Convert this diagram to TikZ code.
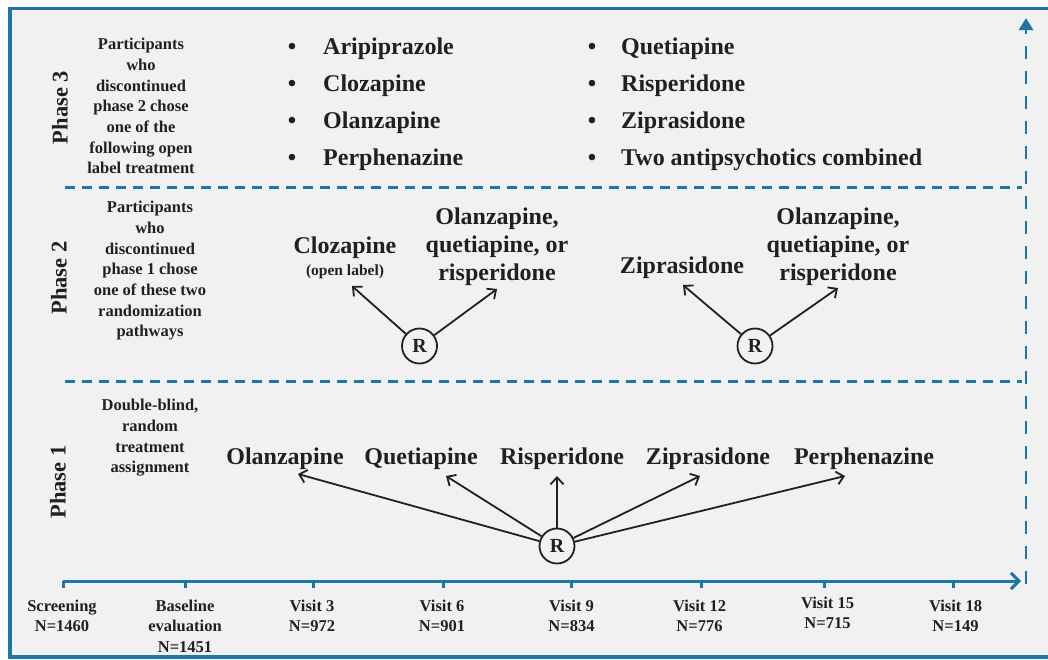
\documentclass[tikz,border=0pt]{standalone}
\usepackage{fontspec}
\setmainfont{Liberation Serif}
\usetikzlibrary{arrows.meta}
\definecolor{frameblue}{RGB}{30,118,168}
\definecolor{bggray}{RGB}{242,241,241}
\definecolor{ink}{RGB}{35,31,32}
\begin{document}
\begin{tikzpicture}[x=1pt,y=-1pt,
  big/.style={font=\bfseries\fontsize{24}{28}\selectfont, text=ink, align=center, inner sep=0},
  small/.style={font=\bfseries\fontsize{16.5}{20.7}\selectfont, text=ink, align=center, inner sep=0, anchor=north},
  phaselab/.style={font=\bfseries\fontsize{22.5}{26}\selectfont, text=ink, rotate=90, inner sep=0},
  axlab/.style={font=\bfseries\fontsize{16.5}{20.3}\selectfont, text=ink, align=center, inner sep=0, anchor=north},
  bul/.style={font=\bfseries\fontsize{24}{28}\selectfont, text=ink, inner sep=0, anchor=base},
  item/.style={font=\bfseries\fontsize{24}{28}\selectfont, text=ink, inner sep=0, anchor=base west},
  rnode/.style={circle, draw=ink, line width=1.8, minimum size=35, inner sep=0, font=\bfseries\fontsize{20}{24}\selectfont, text=ink, fill=bggray},
  arr/.style={draw=ink, line width=1.8, -{Straight Barb[length=7,width=13,line width=1.8]}},
  sepline/.style={draw=frameblue, line width=2.6, dash pattern=on 10 off 7},
  tick/.style={draw=frameblue, line width=3},
]
\useasboundingbox (0,0) rectangle (1048,659);
\fill[white] (0,0) rectangle (1048,659);
% frame
\draw[frameblue, line width=3.5, fill=bggray] (10,8.5) rectangle (1080,657);

% phase separators
\coordinate (s1a) at (65,187.5);
\coordinate (s1b) at (1022,187.5);
\coordinate (s2a) at (65,381.5);
\coordinate (s2b) at (1022,381.5);
\draw[sepline] (s1a) -- (s1b);
\draw[sepline] (s2a) -- (s2b);

% time axis
\coordinate (ax0) at (63,581);
\coordinate (axend) at (1021,581);
\coordinate (vtop) at (1026,18);
\coordinate (vbot) at (1026,584);
\draw[frameblue, line width=2.8, dash pattern=on 13 off 12, -{Triangle[length=12,width=14]}] (vbot) -- (vtop);
\draw[frameblue, line width=3, -{Straight Barb[length=8,width=16,line width=3]}] (ax0) -- (axend);

\foreach \n/\x in {t1/63,t2/185,t3/313,t4/443,t5/571,t6/701,t7/824,t8/953}{
  \coordinate (\n) at (\x,581);
  \draw[tick] (\n) -- ++(0,7);
}

% axis labels
\node[axlab] (l1) at (62,600) {Screening\\N=1460};
\node[axlab] (l2) at (185,600) {Baseline\\evaluation\\N=1451};
\node[axlab] (l3) at (312,600) {Visit 3\\N=972};
\node[axlab] (l4) at (442,600) {Visit 6\\N=901};
\node[axlab] (l5) at (571.5,600) {Visit 9\\N=834};
\node[axlab] (l6) at (699.5,600) {Visit 12\\N=776};
\node[axlab] (l7) at (827.5,597) {Visit 15\\N=715};
\node[axlab] (l8) at (955.5,600) {Visit 18\\N=149};

% phase labels
\node[phaselab] (p3) at (60,107.5) {Phase 3};
\node[phaselab] (p2) at (59,278) {Phase 2};
\node[phaselab] (p1) at (58,482) {Phase 1};

\node[small] (d3) at (141,38) {Participants\\who\\discontinued\\phase 2 chose\\one of the\\following open\\label treatment};
\node[small] (d2) at (150,201) {Participants\\who\\discontinued\\phase 1 chose\\one of these two\\randomization\\pathways};
\node[small] (d1) at (150,399) {Double-blind,\\random\\treatment\\assignment};

% phase 3 list
\foreach \i/\y/\t in {a/54/Aripiprazole,b/91/Clozapine,c/128/Olanzapine,d/165/Perphenazine}{
  \node[bul] (b\i) at (292,\y) {•};
  \node[item] (i\i) at (323,\y) {\t};
}
\foreach \i/\y/\t in {e/54/Quetiapine,f/91/Risperidone,g/128/Ziprasidone,h/165/Two antipsychotics combined}{
  \node[bul] (b\i) at (592,\y) {•};
  \node[item] (i\i) at (621,\y) {\t};
}

% phase 2
\node[big, anchor=base] (cloz) at (345,253) {Clozapine};
\node[font=\bfseries\fontsize{15.5}{18}\selectfont, text=ink, inner sep=0, anchor=base] (openlab) at (345,275) {(open label)};
\node[big, anchor=north] (olz2a) at (497,208) {Olanzapine,\\quetiapine, or\\risperidone};
\node[big, anchor=base] (zip2) at (682,273) {Ziprasidone};
\node[big, anchor=north] (olz2b) at (838,208) {Olanzapine,\\quetiapine, or\\risperidone};
\node[rnode] (r2a) at (419.5,346) {R};
\node[rnode] (r2b) at (755,346) {R};
\coordinate (a2a) at (352,286);
\coordinate (a2b) at (497,289);
\coordinate (a2c) at (683,285);
\coordinate (a2d) at (838,288);
\draw[arr] (r2a) -- (a2a);
\draw[arr] (r2a) -- (a2b);
\draw[arr] (r2b) -- (a2c);
\draw[arr] (r2b) -- (a2d);

% phase 1
\node[big, anchor=base] (o1) at (285,464) {Olanzapine};
\node[big, anchor=base] (q1) at (421,464) {Quetiapine};
\node[big, anchor=base] (r1) at (562,464) {Risperidone};
\node[big, anchor=base] (z1) at (708,464) {Ziprasidone};
\node[big, anchor=base] (pe1) at (864,464) {Perphenazine};
\node[rnode] (r1n) at (557,546) {R};
\coordinate (a1a) at (298,474);
\coordinate (a1b) at (446,476);
\coordinate (a1c) at (557,476);
\coordinate (a1d) at (700,476);
\coordinate (a1e) at (845,476);
\foreach \c in {a1a,a1b,a1c,a1d,a1e}{
  \draw[arr] (r1n) -- (\c);
}
\end{tikzpicture}
\end{document}
